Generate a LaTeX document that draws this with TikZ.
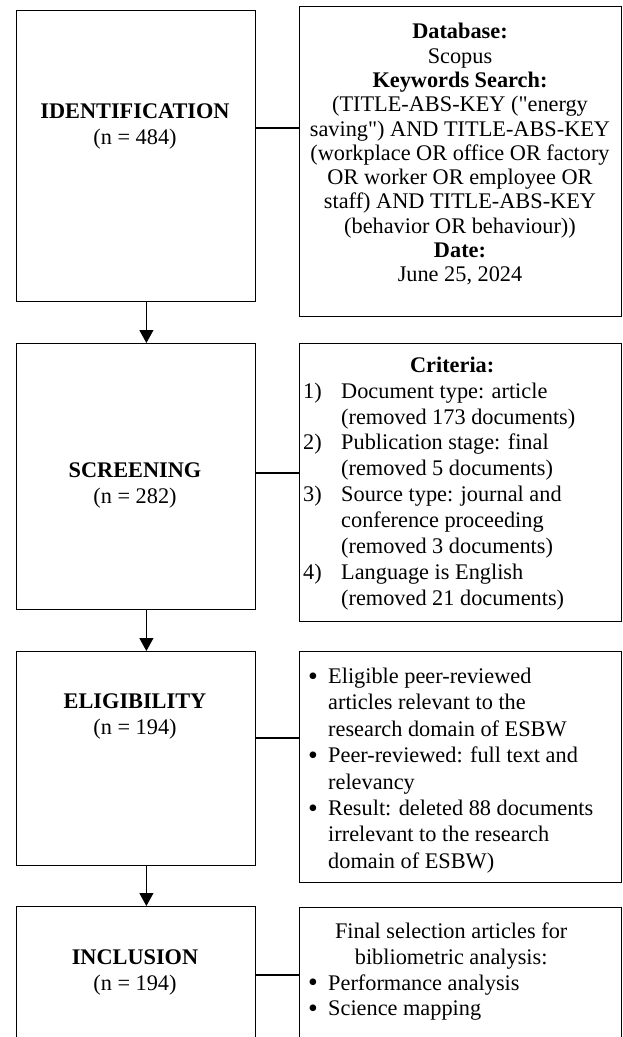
\documentclass[tikz,border=0pt]{standalone}
\usepackage{fontspec}
\setmainfont{Liberation Serif}[Ligatures=TeXOff]
\usetikzlibrary{arrows.meta, positioning}

\tikzset{
  stagebox/.style={draw, line width=1.3pt, anchor=north west, inner sep=0pt, minimum width=239.5pt},
  infobox/.style={draw, line width=1.3pt, anchor=north west, inner sep=0pt, minimum width=322pt},
  stagetext/.style={anchor=north, inner sep=0pt, align=center, font=\fontsize{22.3}{26}\selectfont},
  infotext/.style={inner sep=0pt, font=\fontsize{22.3}{#1}\selectfont},
  flow/.style={-{Triangle[length=13pt,width=14pt]}, line width=1.1pt},
  link/.style={line width=1.1pt}
}
\newcommand{\itemnum}[1]{\makebox[38pt][l]{#1}}
\newcommand{\itembul}{\makebox[20pt][l]{\raisebox{-1.8pt}{\scalebox{1.25}{\textbullet}}}}
\newcommand{\itemgap}{\makebox[20pt]{}}

\begin{document}
\begin{tikzpicture}[x=1pt, y=-1pt]
\useasboundingbox (0,0) rectangle (623,1037);
\clip (0,0) rectangle (623,1037);

% stages
\node[stagebox, minimum height=291pt] (idbox) at (15.5,10) {};
\node[stagebox, minimum height=266pt] (scrbox) at (15.5,343) {};
\node[stagebox, minimum height=214pt] (elbox) at (15.5,651) {};
\node[stagebox, minimum height=180pt] (inbox) at (15.5,906) {};

\node[stagetext] (idtext) at (135,103.2) {\textbf{IDENTIFICATION}\\(n = 484)};
\node[stagetext] (scrtext) at (135,462.7) {\textbf{SCREENING}\\(n = 282)};
\node[stagetext] (eltext) at (135,693.2) {\textbf{ELIGIBILITY}\\(n = 194)};
\node[stagetext] (intext) at (135,949.2) {\textbf{INCLUSION}\\(n = 194)};

% details
\node[infobox, minimum height=310pt] (idinfo) at (299,6) {};
\node[infobox, minimum height=278pt] (scrinfo) at (299,343) {};
\node[infobox, minimum height=231pt] (elinfo) at (299,651) {};
\node[infobox, minimum height=180pt] (ininfo) at (299,907) {};

\node[infotext=24.3, anchor=north, align=center] (idnote) at (460,23.2)
  {\textbf{Database:}\\Scopus\\\textbf{Keywords Search:}\\
   (TITLE-ABS-KEY ("energy\\saving") AND TITLE-ABS-KEY\\
   (workplace OR office OR factory\\OR worker OR employee OR\\
   staff) AND TITLE-ABS-KEY\\(behavior OR behaviour))\\
   \textbf{Date:}\\June 25, 2024};

\node[infotext=25.9, anchor=north west, align=left] (scrnote) at (303,356.6)
  {\makebox[298pt][c]{\textbf{Criteria:}}\\
   \itemnum{1)}Document type: article\\\itemnum{}(removed 173 documents)\\
   \itemnum{2)}Publication stage: final\\\itemnum{}(removed 5 documents)\\
   \itemnum{3)}Source type: journal and\\\itemnum{}conference proceeding\\
   \itemnum{}(removed 3 documents)\\
   \itemnum{4)}Language is English\\\itemnum{}(removed 21 documents)};

\node[infotext=26.4, anchor=north west, align=left] (elnote) at (308,667.8)
  {\itembul Eligible peer-reviewed\\\itemgap articles relevant to the\\
   \itemgap research domain of ESBW\\
   \itembul Peer-reviewed: full text and\\\itemgap relevancy\\
   \itembul Result: deleted 88 documents\\\itemgap irrelevant to the research\\
   \itemgap domain of ESBW)};

\node[infotext=25.8, anchor=north west, align=left] (innote) at (308,922.5)
  {\makebox[286pt][c]{Final selection articles for}\\
   \makebox[286pt][c]{bibliometric analysis:}\\
   \itembul Performance analysis\\\itembul Science mapping};

% connectors
\coordinate (idlink) at (0,128);
\coordinate (scrlink) at (0,473);
\coordinate (ellink) at (0,738);
\coordinate (inlink) at (0,975);
\draw[link] (idbox.east |- idlink) -- (idinfo.west |- idlink);
\draw[link] (scrbox.east |- scrlink) -- (scrinfo.west |- scrlink);
\draw[link] (elbox.east |- ellink) -- (elinfo.west |- ellink);
\draw[link] (inbox.east |- inlink) -- (ininfo.west |- inlink);

\draw[flow] ([xshift=10.5pt]idbox.south) -- ([xshift=10.5pt]scrbox.north);
\draw[flow] ([xshift=10.5pt]scrbox.south) -- ([xshift=10.5pt]elbox.north);
\draw[flow] ([xshift=10.5pt]elbox.south) -- ([xshift=10.5pt]inbox.north);
\end{tikzpicture}
\end{document}
